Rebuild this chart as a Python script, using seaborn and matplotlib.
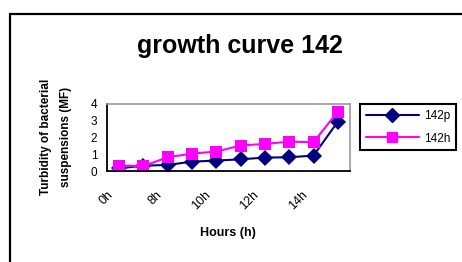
import pandas as pd
import matplotlib.pyplot as plt
import seaborn as sns
from matplotlib.patches import Rectangle

hours = ["0h", "7h", "8h", "9h", "10h", "11h", "12h", "13h", "14h", "24h"]
shown_labels = ["0h", "8h", "10h", "12h", "14h"]
mf_142p = [0.16, 0.32, 0.36, 0.56, 0.62, 0.70, 0.80, 0.82, 0.92, 2.95]
mf_142h = [0.32, 0.30, 0.82, 1.04, 1.16, 1.52, 1.62, 1.75, 1.72, 3.55]

df = pd.DataFrame({
    "pos": list(range(len(hours))) * 2,
    "MF": mf_142p + mf_142h,
    "strain": ["142p"] * len(hours) + ["142h"] * len(hours),
})

sns.set_style("white")
plt.rcParams["font.family"] = ["Liberation Sans", "DejaVu Sans"]
plt.rcParams["text.color"] = "black"
plt.rcParams["axes.labelcolor"] = "black"
plt.rcParams["xtick.color"] = "black"
plt.rcParams["ytick.color"] = "black"

fig = plt.figure(figsize=(4.62, 2.62), dpi=100)
ax = fig.add_axes([107 / 462, 91 / 262, 243 / 462, 67 / 262])

sns.lineplot(data=df, x="pos", y="MF", hue="strain", style="strain",
             palette={"142p": "#000080", "142h": "#FF00FF"},
             markers={"142p": "D", "142h": "s"}, dashes=False,
             markersize=8, markeredgewidth=0, linewidth=1.5, ax=ax, legend=False)

# ticks sit on category boundaries; only some boundaries get a label
ax.set_xlim(-0.5, len(hours) - 0.5)
ax.set_ylim(0, 4)
ax.set_xticks([i - 0.5 for i in range(len(hours) + 1)])
tick_text = [h if h in shown_labels else "" for h in hours] + [""]
ax.set_xticklabels(tick_text, rotation=45, ha="right",
                   rotation_mode="anchor", fontsize=9)
ax.tick_params(axis="x", direction="out", length=3, width=1.2, pad=10)
ax.set_yticks([0, 1, 2, 3, 4])
ax.tick_params(axis="y", direction="out", length=3, width=1.2, labelsize=8.5, pad=4)
ax.set_xlabel("")
ax.set_ylabel("")

for s in ["left", "bottom"]:
    ax.spines[s].set_color("black")
    ax.spines[s].set_linewidth(1.3)
for s in ["top", "right"]:
    ax.spines[s].set_color("#999999")
    ax.spines[s].set_linewidth(1.2)

fig.text(240 / 462, 1 - 53 / 262, "growth curve 142", ha="center", va="baseline",
         fontsize=18, fontweight="bold")
fig.text(56 / 462, 1 - 137 / 262, "Turbidity of bacterial\nsuspensions (MF)",
         ha="center", va="center", rotation=90, fontsize=8.5,
         fontweight="bold", linespacing=2.0)
fig.text(228 / 462, 1 - 233 / 262, "Hours (h)", ha="center", va="center",
         fontsize=9, fontweight="bold")

h1, = ax.plot([], [], color="#000080", marker="D", markersize=7, lw=1.5)
h2, = ax.plot([], [], color="#FF00FF", marker="s", markersize=7, lw=1.5)
leg = fig.legend([h1, h2], ["142p", "142h"], loc="upper left",
                 bbox_to_anchor=(360 / 462, 1 - 104 / 262), fontsize=8.5,
                 handlelength=4.5, fancybox=False, framealpha=1,
                 edgecolor="black", borderpad=0.5, labelspacing=0.9,
                 handletextpad=0.4, borderaxespad=0)
leg.get_frame().set_linewidth(1.5)

fig.patches.append(Rectangle((10 / 462, -0.1), 1.2, 1 - 14 / 262 + 0.1,
                             transform=fig.transFigure, fill=False,
                             edgecolor="black", linewidth=1.6))

fig.savefig("out.png", dpi=100)
